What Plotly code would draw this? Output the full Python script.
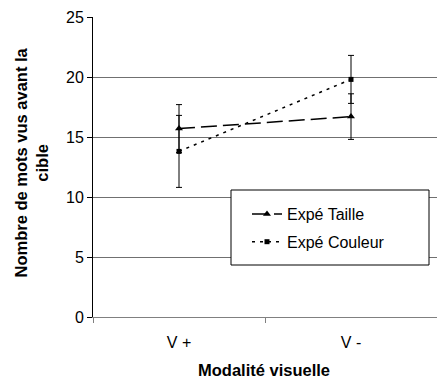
import plotly.graph_objects as go

categories = ["V +", "V -"]
taille = [15.7, 16.7]
taille_err = [2.0, 1.9]
couleur = [13.8, 19.8]
couleur_err = [3.0, 2.0]
y_ticks = [0, 5, 10, 15, 20, 25]

W, H = 437, 385
L, R, T, B = 93, 0, 17, 68
pw = W - L - R
ph = H - T - B

font = "Liberation Sans, Arial, sans-serif"

fig = go.Figure()
fig.add_trace(go.Scatter(
    x=categories, y=taille, name="Expé Taille", mode="lines+markers",
    line=dict(color="black", width=1.5, dash="16px,6px"),
    marker=dict(symbol="triangle-up", size=7, color="black"),
    error_y=dict(type="data", array=taille_err, color="black", thickness=1, width=3),
    legendgroup="a",
))
fig.add_trace(go.Scatter(
    x=categories, y=couleur, name="Expé Couleur", mode="lines+markers",
    line=dict(color="black", width=1.5, dash="3px,5px"),
    marker=dict(symbol="square", size=5, color="black"),
    error_y=dict(type="data", array=couleur_err, color="black", thickness=1, width=3),
    legendgroup="b",
))

# legend frame
fig.add_shape(type="rect", xref="paper", yref="paper",
              x0=(231 - L) / pw, x1=(429 - L) / pw,
              y0=(T + ph - 265) / ph, y1=(T + ph - 190) / ph,
              line=dict(color="black", width=1), fillcolor="white", layer="above")

fig.update_layout(
    width=W, height=H,
    margin=dict(l=L, r=R, t=T, b=B),
    paper_bgcolor="white", plot_bgcolor="white",
    font=dict(family=font, size=16, color="black"),
    showlegend=True,
    legend=dict(
        x=(247 - L) / pw, y=(T + ph - 197) / ph, xanchor="left", yanchor="top",
        bgcolor="rgba(0,0,0,0)", borderwidth=0,
        traceorder="grouped", tracegroupgap=4,
        font=dict(family=font, size=16, color="black"),
    ),
    xaxis=dict(
        type="category", range=[-0.5, 1.5], tickson="boundaries",
        ticks="outside", ticklen=5, tickcolor="#808080",
        showline=True, linecolor="#808080", linewidth=1,
        showgrid=False, zeroline=False, ticklabelstandoff=11,
        tickfont=dict(family=font, size=16, color="black"),
    ),
    yaxis=dict(
        range=[0, 25], tickvals=y_ticks, ticks="outside", ticklen=5,
        tickcolor="black", showline=True, linecolor="black", linewidth=1,
        showgrid=True, gridcolor="#707070", gridwidth=1, zeroline=False,
        tickfont=dict(family=font, size=16, color="black"),
    ),
    annotations=[
        dict(text="<b>Nombre de mots vus avant la<br>cible</b>", textangle=-90,
             xref="paper", yref="paper", x=(30.5 - L) / pw, y=(T + ph - 163) / ph,
             xanchor="center", yanchor="middle", showarrow=False,
             font=dict(family=font, size=16.5, color="black")),
        dict(text="<b>Modalité visuelle</b>", xref="paper", yref="paper",
             x=(264 - L) / pw, y=(T + ph - 370) / ph, xanchor="center", yanchor="middle",
             showarrow=False, font=dict(family=font, size=16.5, color="black")),
    ],
)

fig.write_html("out.html", config={"displayModeBar": False},
               post_script="document.body.style.margin='0px';")
